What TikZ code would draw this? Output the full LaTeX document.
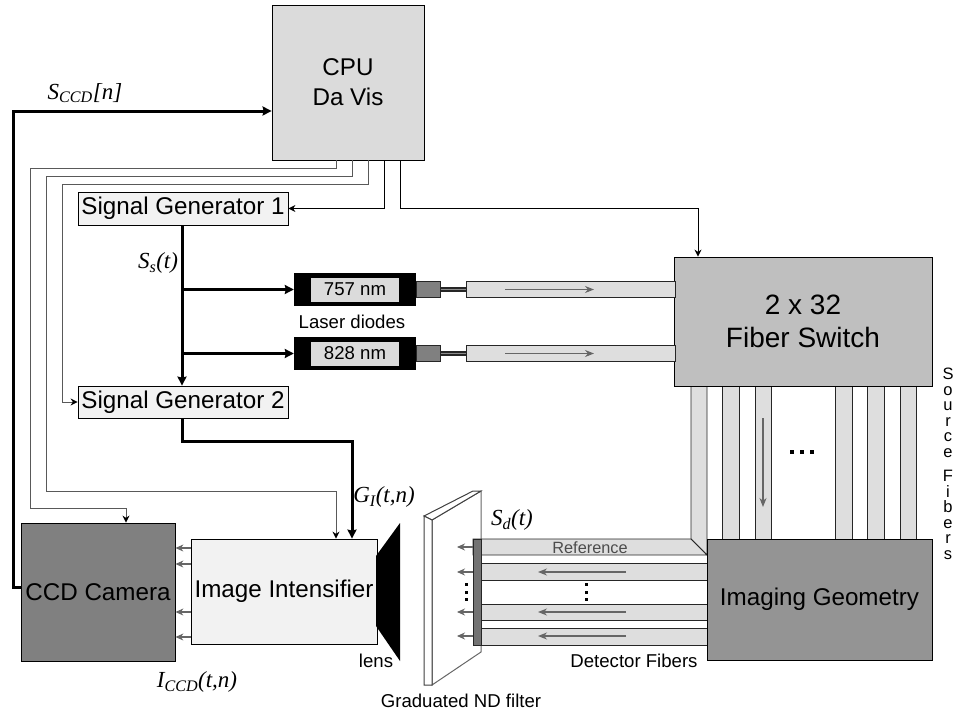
\documentclass[tikz,border=0pt]{standalone}
\usepackage{fontspec}
\setmainfont{Liberation Serif}
\setsansfont{Liberation Sans}
\usetikzlibrary{arrows.meta}
\newcommand{\sigsub}[2]{\textit{#1\textsubscript{#2}}}
\definecolor{cpugray}{gray}{0.86}
\definecolor{switchgray}{gray}{0.75}
\definecolor{geomgray}{gray}{0.58}
\definecolor{camgray}{gray}{0.5}
\definecolor{intgray}{gray}{0.95}
\definecolor{fibergray}{gray}{0.87}
\tikzset{
	blockbox/.style={draw=black, line width=0.8pt, inner sep=0pt, align=center, font=\sffamily\fontsize{24.2}{30}\selectfont},
	signal/.style={font=\fontsize{23}{23}\selectfont},
	caption/.style={font=\sffamily\fontsize{18.6}{20}\selectfont},
	graylink/.style={line width=1pt, draw=black!65, -{Stealth[length=7pt,width=7pt,color=black]}},
	thinlink/.style={line width=1pt, -{Stealth[length=7pt,width=7pt]}},
	thicklink/.style={line width=3pt, -{Stealth[length=9pt,width=9pt,inset=1pt]}},
	beam/.style={line width=1.1pt, draw=black!60, -{Stealth[length=9pt,width=7pt,color=black!60]}},
	fiberbox/.style={draw=black!85, fill=fibergray, line width=0.9pt},
	stub/.style={line width=1.1pt, draw=black!60, -{Stealth[length=8pt,width=7pt,color=black!60]}},
	dotmark/.style={fill=black, inner sep=0pt, minimum size=3pt}
}
\begin{document}
\begin{tikzpicture}[x=1pt, y=-1pt]
	\useasboundingbox (0,0) rectangle (954,713);
	% 1. source fibers (under the boxes)
	\foreach \xa/\xb in {722/739, 755/771, 835/852, 867/884, 900/916}
		\draw[fiberbox] (\xa,386) rectangle (\xb,539);
	\draw[fiberbox] (691,386) -- (691,539) -- (707,555) -- (707,386) -- cycle;
	% 2. filter plate
	\draw[draw=black!60, line width=1pt, fill=white] (432,520) -- (481,491) -- (481,652) -- (432,685) -- cycle;
	\draw[draw=black!75, line width=1pt, fill=white] (424,516) -- (473,491) -- (481,491) -- (432,520) -- cycle;
	\draw[draw=black!75, line width=1pt, fill=white] (424,516) -- (432,520) -- (432,685) -- (424,685) -- cycle;
	% 3. fibers to the filter
	\draw[fiberbox] (473,539) -- (691,539) -- (707,555) -- (473,555) -- cycle;
	\foreach \ya/\yb in {563/580, 604/620, 628/645}
		\draw[fiberbox] (473,\ya) rectangle (707,\yb);
	\node[draw=black!85, fill=black!55, line width=0.8pt, inner sep=0pt, minimum width=8pt, minimum height=106pt, anchor=north west] (bar) at (473,539) {};
	% 4. main blocks
	\node[blockbox, fill=cpugray, minimum width=152pt, minimum height=155pt] (cpu) at (348,82.5) {CPU\\Da Vis};
	\node[blockbox, fill=intgray, minimum width=210pt, minimum height=33pt] (gen1) at (183,208.5) {Signal Generator 1};
	\node[blockbox, fill=intgray, minimum width=210pt, minimum height=32pt] (gen2) at (183,402) {Signal Generator 2};
	\node[blockbox, fill=switchgray, minimum width=258pt, minimum height=129pt, font=\sffamily\fontsize{28}{33}\selectfont] (switch) at (803,321.5) {2 x 32\\Fiber Switch};
	\node[blockbox, fill=geomgray, minimum width=225pt, minimum height=121pt] (geom) at (819.5,599.5) {Imaging Geometry};
	\node[blockbox, fill=camgray, minimum width=154pt, minimum height=138pt] (cam) at (98,592) {CCD Camera};
	\node[blockbox, fill=intgray, minimum width=186pt, minimum height=105pt] (intens) at (284,591.5) {Image Intensifier};
	\fill[black] (376,556) -- (400,523) -- (400,661) -- (376,626) -- cycle;
	% 5. laser diodes
	\foreach \name/\wave/\ya in {lasera/757/289.5, laserb/828/353.5}{
		\node[fill=black, inner sep=0pt, minimum width=122pt, minimum height=33pt] (\name) at (355,\ya) {};
		\node[fill=cpugray, inner sep=0pt, minimum width=88pt, minimum height=24pt, font=\sffamily\fontsize{18.6}{20}\selectfont] (\name text) at (\name) {\wave{} nm};
		\node[draw=black!85, fill=black!50, inner sep=0pt, minimum width=24pt, minimum height=16pt, anchor=west] (\name head) at (\name.east) {};
		\draw[line width=4.5pt, black!85] (\name head.east) -- ++(25,0) coordinate (\name tail);
		\draw[line width=1.4pt, black!45] (\name head.east) -- (\name tail);
		\node[fiberbox, inner sep=0pt, minimum width=209pt, minimum height=16pt, anchor=west] (\name fiber) at (\name tail) {};
		\draw[beam] (505,\ya) -- (594,\ya);
	}
	% 6. control lines from the computer
	\draw[graylink] (336,0 |- cpu.south) -- (336,168) -- (30,168) -- (30,508) -- (126,508) -- (126,0 |- cam.north);
	\draw[graylink] (352,0 |- cpu.south) -- (352,176) -- (46,176) -- (46,491) -- (336,491) -- (336,0 |- intens.north);
	\draw[graylink] (368,0 |- cpu.south) -- (368,184) -- (62,184) -- (62,0 |- gen2.west) -- (gen2.west);
	\draw[thinlink] (384,0 |- cpu.south) -- (384,0 |- gen1.east) -- (gen1.east);
	\draw[thinlink] (400,0 |- cpu.south) -- (400,208) -- (698,208) -- (698,0 |- switch.north);
	% 7. thick signal lines
	\draw[thicklink] (cam.west |- 0,587) -- (13,587) -- (13,111) -- (cpu.west |- 0,111);
	\draw[thicklink] (182,0 |- gen1.south) -- (182,0 |- gen2.north);
	\draw[thicklink] (182,0 |- lasera.west) -- (lasera.west);
	\draw[thicklink] (182,0 |- laserb.west) -- (laserb.west);
	\draw[thicklink] (182,0 |- gen2.south) -- (182,441) -- (352,441) -- (352,0 |- intens.north);
	% 8. light paths
	\foreach \ya in {548, 564, 612, 637}
		\draw[stub] (intens.west |- 0,\ya) -- (cam.east |- 0,\ya);
	\foreach \ya in {547, 572, 612, 636}
		\draw[stub] (bar.west |- 0,\ya) -- (457,\ya);
	\foreach \ya in {572, 612, 636}
		\draw[beam] (626,\ya) -- (538,\ya);
	\draw[beam] (763,418) -- (763,507);
	\foreach \ya in {584, 592, 599}{
		\node[dotmark] (filterdot\ya) at (466,\ya) {};
		\node[dotmark] (fiberdot\ya) at (586,\ya) {};
	}
	\foreach \xa in {792, 802, 812}
		\node[dotmark, minimum size=4pt] (switchdot\xa) at (\xa,452) {};
	% 9. labels
	\node[signal] (sccd) at (85,93) {\sigsub{S}{CCD}\textit{[n]}};
	\node[signal] (ss) at (158,263) {\sigsub{S}{s}\textit{(t)}};
	\node[signal] (gi) at (384,497) {\sigsub{G}{I}\textit{(t,n)}};
	\node[signal] (icd) at (197,682) {\sigsub{I}{CCD}\textit{(t,n)}};
	\node[signal] (sd) at (512,520) {\sigsub{S}{d}\textit{(t)}};
	\node[caption] (laserlabel) at (352,322) {Laser diodes};
	\node[caption] (lenslabel) at (376,661) {lens};
	\node[caption] (filterlabel) at (461,701) {Graduated ND filter};
	\node[caption] (detlabel) at (634,661) {Detector Fibers};
	\node[font=\sffamily\fontsize{16.3}{18}\selectfont, text=black!70] (reflabel) at (590,548) {Reference};
	\node[font=\sffamily\fontsize{16.5}{15.5}\selectfont, align=center, inner sep=0pt, anchor=north] (srclabel) at (948,368) {S\\o\\u\\r\\c\\e\\[9pt]F\\i\\b\\e\\r\\s};
\end{tikzpicture}
\end{document}
